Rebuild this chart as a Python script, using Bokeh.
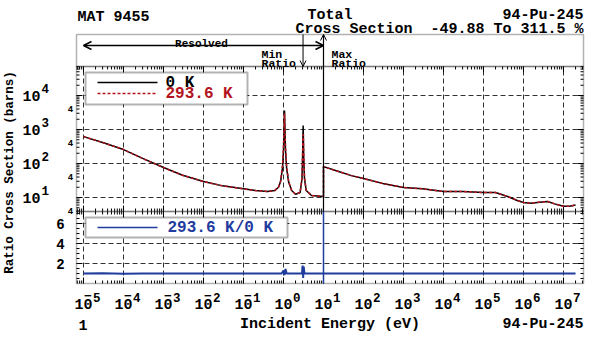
import math
from bokeh.plotting import figure
from bokeh.models import Range1d, LogScale, LinearScale, Label, Arrow, OpenHead, BoxAnnotation
from bokeh.embed import file_html
from bokeh.resources import INLINE

# ---------------- data ----------------
energy_0k = [1e-5, 3e-5, 1e-4, 3e-4, 1e-3, 3e-3, 1e-2, 3e-2, 0.1, 0.2, 0.4, 0.6, 0.75, 0.85,
             0.95, 1.0, 1.03, 1.06, 1.09, 1.12, 1.2, 1.35, 1.6, 2.0, 2.6, 2.9, 3.0, 3.06,
             3.1, 3.14, 3.2, 3.35, 3.7, 5.0, 10.0, 10.0, 20.0, 50.0, 100.0, 300.0, 1e3,
             3e3, 1e4, 3e4, 1e5, 2e5, 4e5, 7e5, 1e6, 1.5e6, 2.5e6, 4e6, 6e6, 1e7, 1.4e7, 2e7]
xs_0k = [617, 417, 257, 141, 76, 45, 29.5, 22, 18, 16, 15, 16, 20, 30,
         80, 250, 900, 3600, 900, 250, 70, 28, 16, 12.5, 14, 35, 150, 600,
         1300, 600, 150, 35, 16, 11.5, 10.7, 81, 62, 44, 36, 26, 19.6,
         18, 15, 15, 14, 14, 10.7, 8.2, 7.1, 6.8, 7.3, 7.6, 6.5, 5.5, 5.5, 6.0]
xs_293k = [617, 417, 257, 141, 76, 45, 29.5, 22, 18, 16, 15, 16, 20, 31,
           95, 320, 1000, 3000, 1000, 330, 80, 29, 16, 12.5, 14, 38, 200, 700,
           700, 700, 220, 40, 16, 11.5, 10.7, 81, 62, 44, 36, 26, 19.6,
           18, 15, 15, 14, 14, 10.7, 8.2, 7.1, 6.8, 7.3, 7.6, 6.5, 5.5, 5.5, 6.0]

ratio_energy = [1e-5, 3e-5, 1e-4, 3e-4, 1e-3, 0.9, 1.0, 1.03, 1.06, 1.09, 1.12, 1.2,
                2.9, 3.0, 3.06, 3.1, 3.14, 3.2, 3.35, 10.0, 2e7]
ratio_vals = [1.0, 1.03, 0.98, 1.01, 1.0, 1.0, 1.3, 1.1, 0.85, 1.1, 1.45, 1.0,
              1.0, 1.8, 1.2, 0.55, 1.2, 1.7, 1.0, 1.0, 1.0]

x_decades = [-5, -4, -3, -2, -1, 0, 1, 2, 3, 4, 5, 6, 7]
xs_decades = [1, 2, 3, 4]
xs_minor_labels = [4, 40, 400, 4000]
ratio_ticks = [2, 4, 6]

resolved_end = 10.0      # eV
min_ratio_e = 3.08       # eV
max_ratio_e = 10.0       # eV

FONT = "Liberation Mono"
RED = "#b3141e"
BLUE = "#1f3c9e"
GRID = "#333333"
NB = "\u00a0"

# ---------------- canvas / scales ----------------
W, H = 600, 336
X0, X1 = 10 ** -5.175, 10 ** 7.5          # panel x limits
UP_TOP, UP_BOT = 10 ** 4.853, 10 ** 0.588  # upper panel y limits (barns)
R_TOP = 7.2                               # lower panel top (ratio)

def px2x(X):
    return 10 ** ((X - 283) / 40.0)

p = figure(width=W, height=H, x_axis_type="log",
           x_range=Range1d(px2x(0), px2x(W)), y_range=Range1d(H, 0),
           x_axis_location=None, y_axis_location=None,
           min_border_left=0, min_border_right=0, min_border_top=0, min_border_bottom=0,
           toolbar_location=None, output_backend="svg", outline_line_color=None)
p.grid.visible = False
p.extra_y_ranges = {"xs": Range1d(10 ** (1 - (H - 197) / 34.0), 10 ** (1 + 197 / 34.0)),
                    "ratio": Range1d(-(H - 283) / 10.0, 28.3)}
p.extra_y_scales = {"xs": LogScale(), "ratio": LinearScale()}

# ---------------- grid lines ----------------
xd = [10.0 ** n for n in x_decades]
p.segment(x0=xd, y0=[UP_BOT] * len(xd), x1=xd, y1=[UP_TOP] * len(xd), y_range_name="xs",
          line_color=GRID, line_dash="5 3", line_width=1)
p.segment(x0=xd, y0=[0] * len(xd), x1=xd, y1=[R_TOP] * len(xd), y_range_name="ratio",
          line_color=GRID, line_dash="5 3", line_width=1)
yd = [10.0 ** n for n in xs_decades]
p.segment(x0=[X0] * len(yd), y0=yd, x1=[X1] * len(yd), y1=yd, y_range_name="xs",
          line_color=GRID, line_dash="5 3", line_width=1)
p.segment(x0=[X0] * 3, y0=ratio_ticks, x1=[X1] * 3, y1=ratio_ticks, y_range_name="ratio",
          line_color=GRID, line_dash="5 3", line_width=1)

# ---------------- tick marks ----------------
x_minor = [m * 10.0 ** n for n in range(-6, 8) for m in range(2, 10) if X0 <= m * 10.0 ** n <= X1]
y_minor = [m * 10.0 ** n for n in range(0, 5) for m in range(2, 10) if UP_BOT <= m * 10.0 ** n <= UP_TOP]
r_minor = [v * 0.5 for v in range(1, 15) if v * 0.5 not in ratio_ticks]

def rays(xv, yv, length, angle, rng):
    p.ray(x=xv, y=yv, length=length, angle=angle, length_units="screen",
          y_range_name=rng, line_color="black", line_width=1)

up, down = math.pi / 2, -math.pi / 2
for vals, ln in ((xd, 6), (x_minor, 3)):
    rays(vals, [UP_TOP] * len(vals), ln, down, "xs")
    rays(vals, [UP_BOT] * len(vals), ln, up, "xs")
    rays(vals, [R_TOP] * len(vals), ln, down, "ratio")
    rays(vals, [0] * len(vals), ln, up, "ratio")
for vals, ln in ((yd, 6), (y_minor, 3)):
    rays([X0] * len(vals), vals, ln, 0, "xs")
    rays([X1] * len(vals), vals, ln, math.pi, "xs")
for vals, ln in ((ratio_ticks, 6), (r_minor, 3)):
    rays([X0] * len(vals), vals, ln, 0, "ratio")
    rays([X1] * len(vals), vals, ln, math.pi, "ratio")

# ---------------- data curves ----------------
p.line(energy_0k, xs_0k, y_range_name="xs", line_color="black", line_width=1.5)
p.line(energy_0k, xs_293k, y_range_name="xs", line_color=RED, line_width=1.5, line_dash="3 2")
p.line(ratio_energy, ratio_vals, y_range_name="ratio", line_color=BLUE, line_width=2)

# ---------------- panel boxes ----------------
p.add_layout(BoxAnnotation(left=X0, right=X1, top=34, bottom=66, fill_alpha=0,
                           line_color="black", line_width=1.5))
p.add_layout(BoxAnnotation(left=X0, right=X1, top=UP_TOP, bottom=UP_BOT, y_range_name="xs",
                           fill_alpha=0, line_color="black", line_width=1.5))
p.add_layout(BoxAnnotation(left=X0, right=X1, top=R_TOP, bottom=0, y_range_name="ratio",
                           fill_alpha=0, line_color="black", line_width=1.5))

# ---------------- header arrows / markers ----------------
p.add_layout(Arrow(start=OpenHead(size=8, line_width=1.5), end=OpenHead(size=8, line_width=1.5),
                   x_start=1e-5, y_start=45, x_end=resolved_end, y_end=45,
                   line_width=1.5, line_color="black"))
p.add_layout(Arrow(end=OpenHead(size=6, line_width=1), x_start=min_ratio_e, y_start=34,
                   x_end=min_ratio_e, y_end=66, line_width=1, line_color="black"))
p.add_layout(Arrow(end=OpenHead(size=6, line_width=1), x_start=max_ratio_e, y_start=211,
                   x_end=max_ratio_e, y_end=34, line_width=1.2, line_color="black"))
p.add_layout(Arrow(end=None, x_start=max_ratio_e, y_start=0, x_end=max_ratio_e, y_end=R_TOP,
                   y_range_name="ratio", line_width=1.5, line_color=BLUE))

def lab(x, y, text, size, align="left", baseline="alphabetic", color="black", rng="default",
        angle=0.0, x_offset=0):
    p.add_layout(Label(x=x, y=y, text=text, text_font=FONT, text_font_size=size,
                       text_font_style="bold", text_align=align, text_baseline=baseline,
                       text_color=color, y_range_name=rng, angle=angle, x_offset=x_offset))

lab(px2x(201), 43.5, "Resolved", "11px", align="center")
lab(px2x(261), 54, "Min", "11.5px")
lab(px2x(261), 63, "Ratio", "11.5px")
lab(px2x(331), 54, "Max", "11.5px")
lab(px2x(331), 63, "Ratio", "11.5px")

# ---------------- legends ----------------
p.add_layout(BoxAnnotation(left=px2x(85), right=px2x(247), top=72, bottom=104,
                           fill_color="white", fill_alpha=1, line_color="black", line_width=2))
p.add_layout(Arrow(end=None, x_start=px2x(97), y_start=82, x_end=px2x(157), y_end=82,
                   line_color="black", line_width=1.5))
p.add_layout(Arrow(end=None, x_start=px2x(97), y_start=93, x_end=px2x(157), y_end=93,
                   line_color=RED, line_width=1.5, line_dash="3 2"))
lab(px2x(165), 82, "0 K", "16px", baseline="middle")
lab(px2x(165), 93, "293.6 K", "16px", baseline="middle", color=RED)

p.add_layout(BoxAnnotation(left=px2x(85), right=px2x(287), top=217, bottom=237,
                           fill_color="white", fill_alpha=1, line_color="black", line_width=2))
p.add_layout(Arrow(end=None, x_start=px2x(97), y_start=227, x_end=px2x(157), y_end=227,
                   line_color=BLUE, line_width=1.5))
lab(px2x(167), 227, "293.6 K/0 K", "16px", baseline="middle", color=BLUE)

# ---------------- tick labels ----------------
for n in x_decades:
    lab(10.0 ** n, 303.5, "10", "15px", align="center")
    lab(10.0 ** n, 297, str(abs(n)), "12.5px", x_offset=9.5)
    if n < 0:
        lab(10.0 ** n, 295, "\u2212", "13px", align="center", x_offset=4.5)

for n in xs_decades:
    lab(px2x(40), 10.0 ** n, "10", "15px", align="right", rng="xs")
    lab(px2x(41), 10.0 ** (n + 7 / 34.0), str(n), "12.5px", rng="xs")
for v in xs_minor_labels:
    lab(px2x(70), v, "4", "9px", align="center", baseline="middle", rng="xs")
for v in ratio_ticks:
    lab(px2x(60), v, str(v), "14px", align="center", baseline="middle", rng="ratio")

# ---------------- titles ----------------
lab(px2x(77), 17, "MAT 9455", "15px")
lab(px2x(329.5), 15, "Total", "15px", align="center")
lab(px2x(583), 15, "94-Pu-245", "15px", align="right")
lab(px2x(583), 28.5, "Cross Section" + NB + NB + "-49.88 To 311.5 %", "15px", align="right")
lab(px2x(78), 324, "1", "15px")
lab(px2x(329.5), 324, "Incident Energy (eV)", "15px", align="center")
lab(px2x(583), 324, "94-Pu-245", "15px", align="right")
lab(px2x(9), 172, "Ratio Cross Section (barns)", "12.5px", align="center",
    baseline="middle", angle=math.pi / 2)

open("out.html", "w").write(file_html(p, INLINE))
